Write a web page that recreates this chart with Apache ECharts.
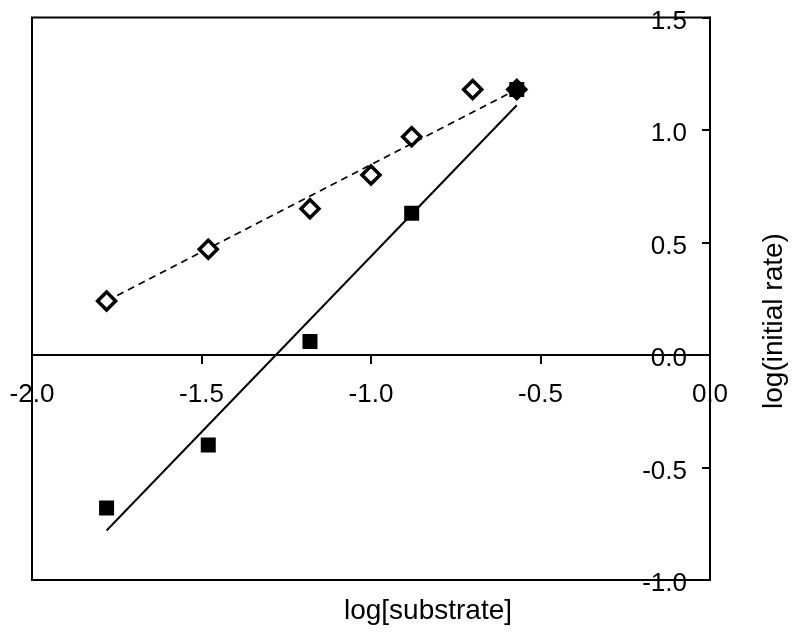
<!DOCTYPE html>
<html>
<head>
<meta charset="utf-8">
<script src="https://cdn.jsdelivr.net/npm/echarts@6/dist/echarts.min.js"></script>
<style>
  html, body { margin: 0; padding: 0; background: #fff; }
  #chart { width: 797px; height: 633px; }
</style>
</head>
<body>
<div id="chart"></div>
<script>
// log[substrate] values
const logSubstrate = [-1.78, -1.48, -1.18, -1.0, -0.88, -0.70, -0.57];
// open diamonds
const rateOpen = [0.24, 0.47, 0.65, 0.80, 0.97, 1.18, 1.18];
// filled squares
const squareX = [-1.78, -1.48, -1.18, -0.88, -0.57];
const rateFilled = [-0.68, -0.40, 0.06, 0.63, 1.18];
// fitted lines (end points)
const dashedFitX = [-1.78, -0.57];
const dashedFitY = [0.24, 1.18];
const solidFitX = [-1.78, -0.57];
const solidFitY = [-0.78, 1.11];

const xTicks = [-2.0, -1.5, -1.0, -0.5, 0.0];
const yTicks = [-1.0, -0.5, 0.0, 0.5, 1.0, 1.5];

const font = '"Liberation Sans", Arial, sans-serif';

const pairs = (xs, ys) => xs.map((x, i) => [x, ys[i]]);

const chart = echarts.init(document.getElementById("chart"));

const option = {
  backgroundColor: "#fff",
  animation: false,
  grid: {
    left: 32,
    right: 87,
    top: 17.5,
    bottom: 53,
    show: true,
    borderColor: "#000",
    borderWidth: 2,
    backgroundColor: "transparent"
  },
  xAxis: {
    type: "value",
    position: "bottom",
    // move the axis up to y = 0 (plot height 562.5, range 2.5 -> 1.0 below zero)
    offset: -225,
    min: xTicks[0],
    max: xTicks[xTicks.length - 1],
    interval: 0.5,
    splitLine: { show: false },
    axisLine: { onZero: false, lineStyle: { color: "#000", width: 2 } },
    axisTick: { show: true, length: 9, lineStyle: { color: "#000", width: 2 } },
    axisLabel: {
      color: "#000",
      fontFamily: font,
      fontSize: 26,
      margin: 27,
      showMinLabel: true,
      showMaxLabel: true,
      hideOverlap: false,
      formatter: v => v.toFixed(1)
    }
  },
  yAxis: {
    type: "value",
    position: "right",
    min: yTicks[0],
    max: yTicks[yTicks.length - 1],
    interval: 0.5,
    splitLine: { show: false },
    axisLine: { onZero: false, lineStyle: { color: "#000", width: 2 } },
    axisTick: { show: true, inside: true, length: 8, lineStyle: { color: "#000", width: 2 } },
    axisLabel: {
      inside: true,
      color: "#000",
      fontFamily: font,
      fontSize: 26,
      margin: 23,
      // labels sit a few px below their ticks in the original
      verticalAlign: "top",
      lineHeight: 8,
      showMinLabel: true,
      showMaxLabel: true,
      hideOverlap: false,
      formatter: v => v.toFixed(1)
    }
  },
  graphic: [
    {
      type: "text",
      x: 428,
      y: 611,
      style: {
        text: "log[substrate]",
        fill: "#000",
        fontFamily: font,
        fontSize: 28,
        textAlign: "center",
        textVerticalAlign: "middle"
      }
    },
    {
      type: "text",
      x: 774,
      y: 321,
      rotation: Math.PI / 2,
      style: {
        text: "log(initial rate)",
        fill: "#000",
        fontFamily: font,
        fontSize: 28,
        textAlign: "center",
        textVerticalAlign: "middle"
      }
    }
  ],
  series: [
    {
      type: "line",
      data: pairs(dashedFitX, dashedFitY),
      symbol: "none",
      lineStyle: { color: "#000", width: 1.6, type: [7, 5], opacity: 1 },
      z: 2
    },
    {
      type: "line",
      data: pairs(solidFitX, solidFitY),
      symbol: "none",
      lineStyle: { color: "#000", width: 2, opacity: 1 },
      z: 2
    },
    {
      type: "scatter",
      data: pairs(logSubstrate, rateOpen),
      symbol: "diamond",
      symbolSize: 18,
      itemStyle: { color: "#fff", borderColor: "#000", borderWidth: 3.5, opacity: 1 },
      z: 3
    },
    {
      type: "scatter",
      data: pairs(squareX, rateFilled),
      symbol: "rect",
      symbolSize: 15,
      itemStyle: { color: "#000", opacity: 1 },
      z: 4
    }
  ]
};

chart.setOption(option);
</script>
</body>
</html>
